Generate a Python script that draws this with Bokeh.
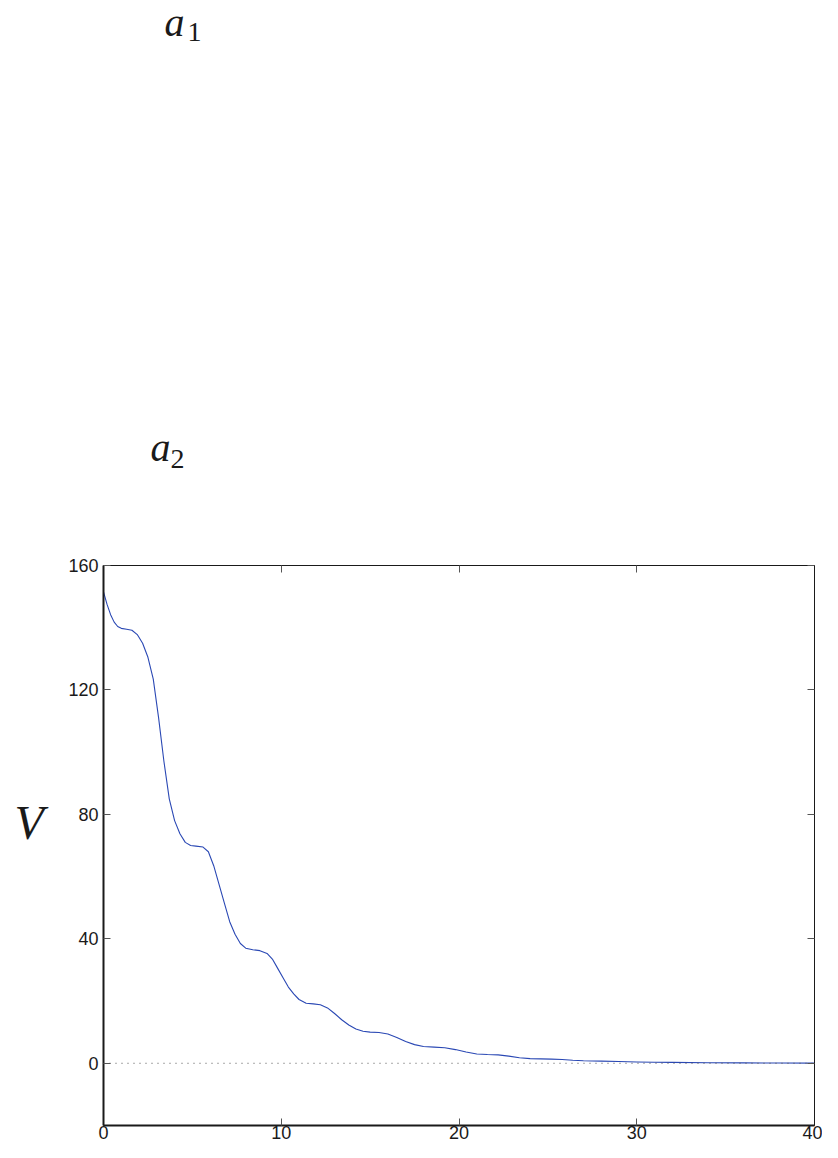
from bokeh.plotting import figure
from bokeh.models import Range1d, LinearAxis, Label, FixedTicker, Span
from bokeh.layouts import column, row
from bokeh.embed import file_html
from bokeh.resources import INLINE

t_vals = [0, 0.2, 0.4, 0.6, 0.8, 1.0, 1.3, 1.6, 1.9, 2.2, 2.5, 2.8, 3.1, 3.4, 3.7,
          4.0, 4.3, 4.6, 4.9, 5.2, 5.6, 5.9, 6.2, 6.5, 6.8, 7.1, 7.4, 7.7, 8.0, 8.4,
          8.8, 9.2, 9.5, 9.8, 10.1, 10.4, 10.7, 11.0, 11.4, 11.8, 12.2, 12.6, 13.0,
          13.4, 13.8, 14.2, 14.6, 15.0, 15.5, 16.0, 16.5, 17.0, 17.5, 18.0, 18.6,
          19.2, 19.8, 20.4, 21.0, 21.6, 22.2, 22.8, 23.4, 24.0, 24.6, 25.2, 25.8,
          26.4, 27.0, 28, 29, 30, 31, 32, 34, 36, 38, 40]
v_vals = [151.5, 147.5, 144.2, 141.8, 140.4, 139.8, 139.5, 139.2, 137.8, 135, 130.5,
          123.5, 111, 97, 85, 78, 73.8, 71, 70, 69.8, 69.5, 68, 63.5, 57.5, 51.5,
          45.5, 41.5, 38.5, 37, 36.5, 36.2, 35.3, 33.5, 30.5, 27.5, 24.5, 22.3, 20.5,
          19.3, 19.1, 18.8, 17.8, 16, 14, 12.3, 11, 10.3, 10.0, 9.9, 9.4, 8.3, 7,
          6, 5.4, 5.2, 5.0, 4.4, 3.6, 3.0, 2.8, 2.7, 2.3, 1.8, 1.5, 1.4, 1.35, 1.2,
          0.95, 0.8, 0.7, 0.55, 0.4, 0.35, 0.28, 0.18, 0.12, 0.08, 0.05]

x_ticks = [0, 10, 20, 30, 40]
y_ticks = [0, 40, 80, 120, 160]

PAD_TOP = 14
TOP_H = 565 - PAD_TOP
MAIN_H = 1142 - TOP_H
V_W = 50
TEXT = "#1a1a1a"


def blank(w, h, xr, yr):
    f = figure(width=w, height=h, output_backend="svg", toolbar_location=None,
               x_range=Range1d(*xr), y_range=Range1d(*yr),
               min_border=0, x_axis_location=None, y_axis_location=None)
    f.grid.visible = False
    f.outline_line_color = None
    return f


def lab(f, text, page_x, page_y, size, italic=True):
    f.add_layout(Label(x=page_x, y=page_y, text=text,
                       text_font="Liberation Serif", text_font_size=size,
                       text_font_style="italic" if italic else "normal",
                       text_color=TEXT, text_baseline="alphabetic",
                       text_align="left"))


# region above the chart (page coordinates)
top = blank(822, TOP_H, (8, 830), (8 + TOP_H, 8))
lab(top, "a", 172, 30, "40px")
lab(top, "1", 195, 39, "28px", italic=False)
lab(top, "a", 158, 455, "40px")
lab(top, "2", 178, 466, "28px", italic=False)

# strip left of the chart holding the V label
vfig = blank(V_W, MAIN_H, (8, 8 + V_W), (1150, 8 + TOP_H))
lab(vfig, "V", 22, 830, "48px")

# main chart
p = figure(width=822 - V_W, height=MAIN_H, output_backend="svg", toolbar_location=None,
           x_range=Range1d(0, 40), y_range=Range1d(-20, 160),
           min_border_left=111 - 8 - V_W, min_border_right=8, min_border_top=PAD_TOP,
           min_border_bottom=17, x_axis_location=None, y_axis_location=None)
p.grid.visible = False
p.outline_line_color = TEXT
p.outline_line_width = 1


def style(ax, ticks, labels=True, lw=1.5):
    ax.ticker = FixedTicker(ticks=ticks)
    ax.major_tick_in = 7
    ax.major_tick_out = 0
    ax.minor_tick_in = 0
    ax.minor_tick_out = 0
    ax.major_tick_line_color = "#555555"
    ax.axis_line_color = TEXT
    ax.axis_line_width = lw
    ax.major_label_text_font = "Arial"
    ax.major_label_text_color = TEXT
    ax.major_label_text_font_size = "18px"
    if labels:
        ax.major_label_standoff = 3
    else:
        ax.major_label_overrides = {t: "" for t in ticks}
        ax.major_label_standoff = 0


bx = LinearAxis(); tx = LinearAxis(); ly = LinearAxis(); ry = LinearAxis()
style(bx, x_ticks, True, 2)
style(tx, x_ticks, False, 1)
style(ly, y_ticks, True, 2)
style(ry, y_ticks, False, 1)
ly.major_label_standoff = 5
bx.major_label_standoff = 0
p.add_layout(bx, "below")
p.add_layout(tx, "above")
p.add_layout(ly, "left")
p.add_layout(ry, "right")

zero = Span(location=0, dimension="width", line_color="#555555", line_width=1,
            line_dash="1 5")
p.add_layout(zero)

p.line(t_vals, v_vals, line_color="#2a48b4", line_width=1.1, line_join="round")

layout = column(top, row(vfig, p, spacing=0), spacing=0)
open("out.html", "w").write(file_html(layout, INLINE))
